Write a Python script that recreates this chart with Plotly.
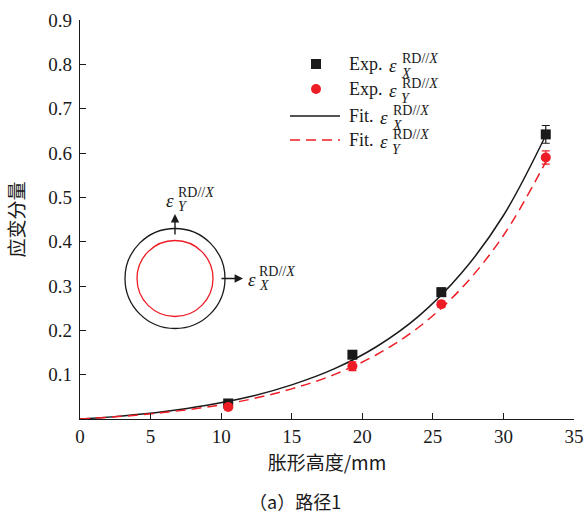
import plotly.graph_objects as go

# ---------------- data ----------------
exp_x = [10.5, 19.3, 25.6, 33.0]
exp_x_strain = [0.035, 0.145, 0.286, 0.642]
exp_x_err = [0.005, 0.006, 0.009, 0.020]
exp_y_strain = [0.027, 0.119, 0.259, 0.590]
exp_y_err = [0.006, 0.010, 0.007, 0.015]

fit_x = [0, 3, 6, 9, 12, 15, 18, 21, 24, 27, 30, 33]
fit_x_strain = [0.0, 0.007, 0.017, 0.031, 0.050, 0.077, 0.113, 0.163, 0.232, 0.328, 0.459, 0.640]
fit_y_strain = [0.0, 0.006, 0.015, 0.027, 0.044, 0.068, 0.100, 0.145, 0.207, 0.294, 0.414, 0.580]

x_ticks = [0, 5, 10, 15, 20, 25, 30, 35]
y_ticks = [0.1, 0.2, 0.3, 0.4, 0.5, 0.6, 0.7, 0.8, 0.9]

x_title = "胀形高度/mm"
y_title = "应变分量"
caption = "（a）路径1"

# ---------------- styling ----------------
BLACK = "#1a1a1a"
RED = "#ee1c25"
SERIF = "Liberation Serif, serif"
CJK = "Noto Sans CJK SC"

W, H = 584, 514
ML, MR, MT, MB = 80, 10, 20, 95
XR = [0, 35]
YR = [0, 0.9]
PW = W - ML - MR
PH = H - MT - MB


def dx(px):
    return XR[0] + (px - ML) / PW * (XR[1] - XR[0])


def dy(py):
    return YR[0] + (MT + PH - py) / PH * (YR[1] - YR[0])


fig = go.Figure()

fig.add_trace(go.Scatter(x=fit_x, y=fit_x_strain, mode="lines",
                         line=dict(color=BLACK, width=1.5, shape="spline"),
                         showlegend=False))
fig.add_trace(go.Scatter(x=fit_x, y=fit_y_strain, mode="lines",
                         line=dict(color=RED, width=1.5, dash="10px,6px", shape="spline"),
                         showlegend=False))
fig.add_trace(go.Scatter(x=exp_x, y=exp_x_strain, mode="markers",
                         marker=dict(symbol="square", size=10, color=BLACK),
                         error_y=dict(type="data", array=exp_x_err, color=BLACK,
                                      thickness=1.2, width=4),
                         showlegend=False))
fig.add_trace(go.Scatter(x=exp_x, y=exp_y_strain, mode="markers",
                         marker=dict(symbol="circle", size=10, color=RED),
                         error_y=dict(type="data", array=exp_y_err, color=RED,
                                      thickness=1.2, width=4),
                         showlegend=False))

shapes = []
annotations = []


def txt(px, py, text, size, anchor="left"):
    annotations.append(dict(x=dx(px), y=dy(py), xref="x", yref="y", text=text,
                            showarrow=False, xanchor=anchor, yanchor="middle",
                            font=dict(family=SERIF, size=size, color=BLACK)))


# ---------------- custom legend ----------------
leg_rows = [64, 89, 116, 140]
marker_px = 316
text_px = 347
shapes.append(dict(type="rect", xref="x", yref="y", xsizemode="pixel", ysizemode="pixel",
                   xanchor=dx(marker_px), yanchor=dy(leg_rows[0]),
                   x0=-5, x1=5, y0=-5, y1=5, fillcolor=BLACK, line=dict(width=0)))
shapes.append(dict(type="circle", xref="x", yref="y", xsizemode="pixel", ysizemode="pixel",
                   xanchor=dx(marker_px), yanchor=dy(leg_rows[1]),
                   x0=-5, x1=5, y0=-5, y1=5, fillcolor=RED, line=dict(width=0)))
shapes.append(dict(type="line", xref="x", yref="y", x0=dx(290), x1=dx(340),
                   y0=dy(leg_rows[2]), y1=dy(leg_rows[2]), line=dict(color=BLACK, width=1.5)))
shapes.append(dict(type="line", xref="x", yref="y", x0=dx(290), x1=dx(340),
                   y0=dy(leg_rows[3]), y1=dy(leg_rows[3]),
                   line=dict(color=RED, width=1.5, dash="10px,6px")))

leg_labels = [("Exp.", "X"), ("Exp.", "Y"), ("Fit.", "X"), ("Fit.", "Y")]
for (pre, sub), row in zip(leg_labels, leg_rows):
    sup_left = 400 if pre == "Exp." else 391
    txt(text_px, row, pre, 18)
    txt(sup_left - 1, row + 1, "<i>ε</i>", 19, anchor="right")
    txt(sup_left, row - 6, "RD//<i>X</i>", 14)
    txt(sup_left - 1, row + 9, f"<i>{sub}</i>", 14)

# ---------------- inset sketch ----------------
cx, cy = 175, 278.5
shapes.append(dict(type="circle", xref="x", yref="y", xsizemode="pixel", ysizemode="pixel",
                   xanchor=dx(cx), yanchor=dy(cy), x0=-50, x1=50, y0=-50, y1=50,
                   line=dict(color=BLACK, width=1.3)))
shapes.append(dict(type="circle", xref="x", yref="y", xsizemode="pixel", ysizemode="pixel",
                   xanchor=dx(cx), yanchor=dy(cy), x0=-38, x1=38, y0=-38, y1=38,
                   line=dict(color=RED, width=1.3)))
annotations.append(dict(x=dx(cx), y=dy(214), xref="x", yref="y", text="", showarrow=True,
                        ax=0, ay=22, arrowhead=2, arrowsize=1.2, arrowwidth=1.4,
                        arrowcolor=BLACK))
annotations.append(dict(x=dx(243), y=dy(cy), xref="x", yref="y", text="", showarrow=True,
                        ax=-23, ay=0, arrowhead=2, arrowsize=1.2, arrowwidth=1.4,
                        arrowcolor=BLACK))
for (ex, ey, sx, sub) in [(170, 200, 176, "Y"), (251.5, 279, 257, "X")]:
    txt(ex, ey, "<i>ε</i>", 19, anchor="center")
    txt(sx, ey - 8, "RD//<i>X</i>", 14)
    txt(sx, ey + 6, f"<i>{sub}</i>", 14)

# caption
annotations.append(dict(x=(295 - ML) / PW, y=0, xref="paper", yref="paper", text=caption,
                        showarrow=False, xanchor="center", yanchor="middle",
                        yshift=-(501 - (MT + PH)),
                        font=dict(family=CJK, size=18, color=BLACK)))

fig.update_layout(
    template="none",
    width=W, height=H,
    margin=dict(l=ML, r=MR, t=MT, b=MB),
    paper_bgcolor="white", plot_bgcolor="white",
    font=dict(family=SERIF, size=18, color=BLACK),
    showlegend=False,
    shapes=shapes, annotations=annotations,
    xaxis=dict(range=XR, tickvals=x_ticks, ticks="inside", ticklen=6,
               tickwidth=1.2, tickcolor=BLACK, showline=True, linecolor=BLACK, linewidth=1.3,
               showgrid=False, zeroline=False, mirror=False,
               tickfont=dict(family=SERIF, size=19, color=BLACK),
               title=dict(text=x_title, font=dict(family=CJK, size=19, color=BLACK),
                          standoff=10)),
    yaxis=dict(range=YR, tickvals=y_ticks, ticks="inside", ticklen=6,
               tickwidth=1.2, tickcolor=BLACK, showline=True, linecolor=BLACK, linewidth=1.3,
               showgrid=False, zeroline=False, mirror=False,
               tickfont=dict(family=SERIF, size=19, color=BLACK),
               ticklabelstandoff=3,
               title=dict(text=y_title, font=dict(family=CJK, size=19, color=BLACK),
                          standoff=18)),
)

fig.write_html("out.html")
